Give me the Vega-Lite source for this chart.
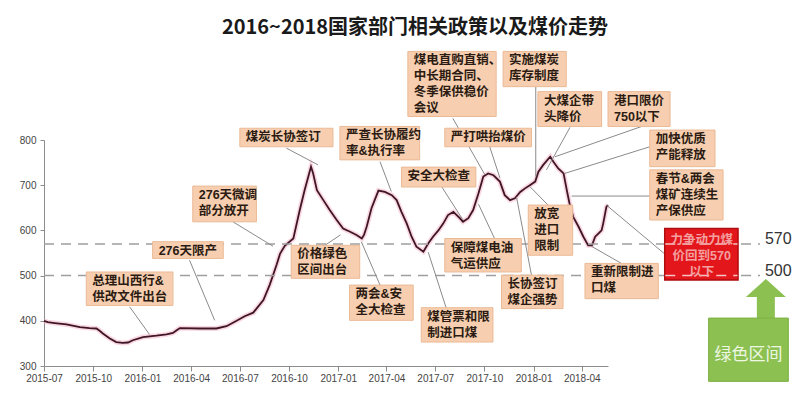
{
  "$schema": "https://vega.github.io/schema/vega-lite/v6.json",
  "width": 564,
  "height": 226,
  "autosize": {"type": "none"},
  "padding": {"left": 44, "top": 140, "right": 190, "bottom": 28},
  "background": "white",
  "title": {"text": "2016~2018国家部门相关政策以及煤价走势", "fontSize": 20, "fontWeight": "bold", "font": "Noto Sans CJK SC", "color": "#1a1a1a", "anchor": "middle", "dx": 89, "dy": -9},
  "config": {
    "view": {"stroke": null},
    "font": "Noto Sans CJK SC",
    "axis": {"grid": false, "labelFlush": false, "labelOverlap": false, "labelFont": "Liberation Sans", "labelFontSize": 10, "labelColor": "#444", "domainColor": "#8c8c8c", "tickColor": "#8c8c8c", "title": null}
  },
  "datasets": {
    "price": [
      {"date":"2015-07-01","price":400},{"date":"2015-07-08","price":397},{"date":"2015-07-21","price":395},{"date":"2015-08-12","price":392},{"date":"2015-09-06","price":386},{"date":"2015-09-24","price":384},{"date":"2015-10-07","price":383},{"date":"2015-10-13","price":378},{"date":"2015-10-19","price":372},{"date":"2015-11-01","price":361},{"date":"2015-11-13","price":353},{"date":"2015-11-25","price":351},{"date":"2015-12-05","price":352},{"date":"2015-12-14","price":357},{"date":"2016-01-02","price":364},{"date":"2016-01-27","price":367},{"date":"2016-02-15","price":370},{"date":"2016-02-27","price":373},{"date":"2016-03-05","price":379},{"date":"2016-03-11","price":384},{"date":"2016-04-17","price":383},{"date":"2016-05-18","price":383},{"date":"2016-06-06","price":388},{"date":"2016-06-25","price":400},{"date":"2016-07-10","price":410},{"date":"2016-07-26","price":418},{"date":"2016-08-14","price":446},{"date":"2016-08-26","price":480},{"date":"2016-09-08","price":525},{"date":"2016-09-14","price":548},{"date":"2016-09-23","price":566},{"date":"2016-10-09","price":582},{"date":"2016-10-21","price":645},{"date":"2016-10-30","price":689},{"date":"2016-11-06","price":719},{"date":"2016-11-11","price":741},{"date":"2016-11-15","price":726},{"date":"2016-11-22","price":689},{"date":"2016-12-04","price":667},{"date":"2016-12-16","price":645},{"date":"2016-12-29","price":623},{"date":"2017-01-10","price":604},{"date":"2017-01-23","price":597},{"date":"2017-02-04","price":590},{"date":"2017-02-14","price":582},{"date":"2017-02-18","price":590},{"date":"2017-02-23","price":608},{"date":"2017-03-04","price":649},{"date":"2017-03-17","price":688},{"date":"2017-03-29","price":685},{"date":"2017-04-11","price":678},{"date":"2017-04-20","price":667},{"date":"2017-04-29","price":641},{"date":"2017-05-09","price":615},{"date":"2017-05-18","price":586},{"date":"2017-05-27","price":564},{"date":"2017-06-09","price":553},{"date":"2017-06-18","price":571},{"date":"2017-06-27","price":586},{"date":"2017-07-07","price":600},{"date":"2017-07-16","price":615},{"date":"2017-07-25","price":634},{"date":"2017-08-04","price":641},{"date":"2017-08-16","price":627},{"date":"2017-08-22","price":619},{"date":"2017-09-01","price":627},{"date":"2017-09-10","price":645},{"date":"2017-09-20","price":682},{"date":"2017-09-29","price":719},{"date":"2017-10-08","price":726},{"date":"2017-10-18","price":722},{"date":"2017-10-30","price":708},{"date":"2017-11-08","price":678},{"date":"2017-11-18","price":667},{"date":"2017-11-27","price":671},{"date":"2017-12-07","price":685},{"date":"2017-12-16","price":693},{"date":"2017-12-25","price":700},{"date":"2018-01-04","price":708},{"date":"2018-01-10","price":730},{"date":"2018-01-19","price":745},{"date":"2018-02-01","price":763},{"date":"2018-02-07","price":752},{"date":"2018-02-16","price":737},{"date":"2018-02-26","price":726},{"date":"2018-03-04","price":689},{"date":"2018-03-09","price":660},{"date":"2018-03-16","price":630},{"date":"2018-03-26","price":608},{"date":"2018-04-04","price":586},{"date":"2018-04-13","price":567},{"date":"2018-04-20","price":567},{"date":"2018-04-26","price":586},{"date":"2018-05-02","price":593},{"date":"2018-05-08","price":600},{"date":"2018-05-11","price":615},{"date":"2018-05-17","price":652},{"date":"2018-05-20","price":656}
    ],
    "levels": [
      {"level": 570, "start": "2015-07-01", "end": "2019-02-28"},
      {"level": 500, "start": "2015-07-01", "end": "2019-02-28"}
    ],
    "redLevels": [
      {"level": 570, "start": "2018-09-04", "end": "2019-01-17"},
      {"level": 500, "start": "2018-09-04", "end": "2019-01-17"}
    ],
    "notes": [
      {"note":"总理山西行&\n供改文件出台","start":"2015-09-18","end":"2016-02-27","top":508,"bottom":434},
      {"note":"276天限产","start":"2016-01-20","end":"2016-05-31","top":575,"bottom":538},
      {"note":"276天微调\n部分放开","start":"2016-04-04","end":"2016-08-01","top":698,"bottom":619},
      {"note":"煤炭长协签订","start":"2016-07-01","end":"2016-12-22","top":826,"bottom":785},
      {"note":"严查长协履约\n率&执行率","start":"2017-01-04","end":"2017-06-02","top":830,"bottom":756},
      {"note":"安全大检查","start":"2017-04-29","end":"2017-09-15","top":740,"bottom":696},
      {"note":"煤电直购直销、\n中长期合同、\n冬季保供稳价\n会议","start":"2017-05-11","end":"2017-10-23","top":996,"bottom":852},
      {"note":"严打哄抬煤价","start":"2017-07-19","end":"2017-12-28","top":826,"bottom":785},
      {"note":"实施煤炭\n库存制度","start":"2017-11-05","end":"2018-03-03","top":996,"bottom":918},
      {"note":"大煤企带\n头降价","start":"2018-01-09","end":"2018-05-08","top":907,"bottom":830},
      {"note":"港口限价\n750以下","start":"2018-05-20","end":"2018-09-13","top":907,"bottom":830},
      {"note":"加快优质\n产能释放","start":"2018-08-06","end":"2018-12-06","top":822,"bottom":741},
      {"note":"春节&两会\n煤矿连续生\n产保供应","start":"2018-08-06","end":"2018-12-21","top":734,"bottom":623},
      {"note":"重新限制进\n口煤","start":"2018-04-07","end":"2018-08-22","top":527,"bottom":449},
      {"note":"放宽\n进口\n限制","start":"2017-12-22","end":"2018-03-15","top":656,"bottom":545},
      {"note":"保障煤电油\n气运供应","start":"2017-07-19","end":"2017-12-09","top":582,"bottom":508},
      {"note":"长协签订\n煤企强势","start":"2017-11-02","end":"2018-02-25","top":501,"bottom":427},
      {"note":"煤管票和限\n制进口煤","start":"2017-06-05","end":"2017-10-17","top":429,"bottom":353},
      {"note":"两会&安\n全大检查","start":"2017-01-22","end":"2017-05-21","top":479,"bottom":401},
      {"note":"价格绿色\n区间出台","start":"2016-10-05","end":"2017-02-10","top":567,"bottom":494}
    ],
    "arrows": [
      {"from":"2015-12-08","fromValue":431,"to":"2016-01-14","toValue":370},
      {"from":"2016-03-29","fromValue":534,"to":"2016-05-15","toValue":401},
      {"from":"2016-06-18","fromValue":619,"to":"2016-09-01","toValue":565},
      {"from":"2016-09-26","fromValue":782,"to":"2016-11-24","toValue":745},
      {"from":"2017-03-20","fromValue":752,"to":"2017-04-10","toValue":686},
      {"from":"2017-07-13","fromValue":697,"to":"2017-08-22","toValue":623},
      {"from":"2017-08-03","fromValue":848,"to":"2017-10-02","toValue":723},
      {"from":"2017-10-11","fromValue":785,"to":"2017-10-30","toValue":716},
      {"from":"2018-01-05","fromValue":918,"to":"2018-01-05","toValue":719},
      {"from":"2018-03-10","fromValue":828,"to":"2018-01-25","toValue":734},
      {"from":"2018-07-22","fromValue":830,"to":"2018-02-10","toValue":763},
      {"from":"2018-08-06","fromValue":785,"to":"2018-02-28","toValue":726},
      {"from":"2018-08-06","fromValue":676,"to":"2018-03-13","toValue":676},
      {"from":"2018-09-06","fromValue":545,"to":"2018-05-17","toValue":656},
      {"from":"2018-06-14","fromValue":527,"to":"2018-04-19","toValue":565},
      {"from":"2018-01-28","fromValue":656,"to":"2017-12-25","toValue":697},
      {"from":"2017-10-20","fromValue":582,"to":"2017-09-20","toValue":658},
      {"from":"2017-12-28","fromValue":501,"to":"2017-11-30","toValue":674},
      {"from":"2017-07-22","fromValue":427,"to":"2017-06-18","toValue":552},
      {"from":"2017-03-20","fromValue":479,"to":"2017-02-13","toValue":575},
      {"from":"2016-12-07","fromValue":567,"to":"2017-01-05","toValue":590}
    ],
    "target": [
      {"note":"力争动力煤\n价回到570\n以下","start":"2018-09-03","end":"2019-01-18","top":604,"bottom":490}
    ],
    "green": [
      {"label":"绿色区间","start":"2018-11-24","end":"2019-04-22","top":406,"bottom":266,"arrowAt":"2019-03-11","arrowValue":448}
    ]
  },
  "layer": [
    {
      "data": {"name": "price"},
      "mark": {"type": "line", "color": "#f5b8c8", "strokeWidth": 5, "opacity": 0.55},
      "encoding": {
        "x": {"field": "date", "type": "temporal", "title": null,
              "scale": {"domain": [{"year":2015,"month":7,"date":1},{"year":2018,"month":5,"date":20}], "nice": false},
              "axis": {"format": "%Y-%m", "tickCount": {"interval": "month", "step": 3}, "tickSize": 5, "labelPadding": 2}},
        "y": {"field": "price", "type": "quantitative", "title": null,
              "scale": {"domain": [300, 800], "nice": false, "zero": false},
              "axis": {"values": [300,350,400,450,500,550,600,650,700,750,800], "tickSize": 4, "labelPadding": 4}}
      }
    },
    {
      "data": {"name": "price"},
      "mark": {"type": "line", "color": "#3f1628", "strokeWidth": 1.8},
      "encoding": {
        "x": {"field": "date", "type": "temporal", "title": null},
        "y": {"field": "price", "type": "quantitative", "title": null}
      }
    },
    {
      "data": {"name": "levels"},
      "mark": {"type": "rule", "color": "#9e9e9e", "strokeWidth": 1.5, "strokeDash": [10, 7]},
      "encoding": {
        "x": {"field": "start", "type": "temporal", "title": null},
        "x2": {"field": "end"},
        "y": {"field": "level", "type": "quantitative", "title": null}
      }
    },
    {
      "data": {"name": "levels"},
      "mark": {"type": "text", "align": "left", "baseline": "alphabetic", "dx": 5, "dy": 0, "fontSize": 16, "font": "Liberation Sans", "color": "#333"},
      "encoding": {
        "x": {"field": "end", "type": "temporal", "title": null},
        "y": {"field": "level", "type": "quantitative", "title": null},
        "text": {"field": "level"}
      }
    },
    {
      "data": {"name": "arrows"},
      "mark": {"type": "rule", "color": "#8a8a8a", "strokeWidth": 1},
      "encoding": {
        "x": {"field": "from", "type": "temporal", "title": null},
        "x2": {"field": "to"},
        "y": {"field": "fromValue", "type": "quantitative", "title": null},
        "y2": {"field": "toValue"}
      }
    },
    {
      "data": {"name": "notes"},
      "mark": {"type": "rect", "fill": "#f7cfb0", "stroke": "#eab995", "strokeWidth": 1},
      "encoding": {
        "x": {"field": "start", "type": "temporal", "title": null},
        "x2": {"field": "end"},
        "y": {"field": "top", "type": "quantitative", "title": null},
        "y2": {"field": "bottom"}
      }
    },
    {
      "data": {"name": "notes"},
      "mark": {"type": "text", "align": "left", "baseline": "top", "dx": 6, "dy": 3, "fontSize": 12.5, "fontWeight": "bold", "font": "Liberation Sans, Noto Sans CJK SC", "color": "#2b1b12", "lineBreak": "\n", "lineHeight": 16},
      "encoding": {
        "x": {"field": "start", "type": "temporal", "title": null},
        "y": {"field": "top", "type": "quantitative", "title": null},
        "text": {"field": "note"}
      }
    },
    {
      "data": {"name": "target"},
      "mark": {"type": "rect", "fill": "#e3161b", "stroke": "#b00d10", "strokeWidth": 1.5},
      "encoding": {
        "x": {"field": "start", "type": "temporal", "title": null},
        "x2": {"field": "end"},
        "y": {"field": "top", "type": "quantitative", "title": null},
        "y2": {"field": "bottom"}
      }
    },
    {
      "data": {"name": "redLevels"},
      "mark": {"type": "rule", "color": "#f6c4c4", "strokeWidth": 1.5, "strokeDash": [10, 7]},
      "encoding": {
        "x": {"field": "start", "type": "temporal", "title": null},
        "x2": {"field": "end"},
        "y": {"field": "level", "type": "quantitative", "title": null}
      }
    },
    {
      "data": {"name": "target"},
      "mark": {"type": "text", "align": "center", "baseline": "top", "dx": 37, "dy": 5, "fontSize": 12.5, "fontWeight": "bold", "font": "Liberation Sans, Noto Sans CJK SC", "color": "#f3a0a0", "lineBreak": "\n", "lineHeight": 16},
      "encoding": {
        "x": {"field": "start", "type": "temporal", "title": null},
        "y": {"field": "top", "type": "quantitative", "title": null},
        "text": {"field": "note"}
      }
    },
    {
      "data": {"name": "green"},
      "mark": {"type": "point", "shape": "M0,-1 L1,-0.1 L0.45,-0.1 L0.45,1 L-0.45,1 L-0.45,-0.1 L-1,-0.1 Z", "size": 1600, "filled": true, "color": "#8cc152", "opacity": 1},
      "encoding": {
        "x": {"field": "arrowAt", "type": "temporal", "title": null},
        "y": {"field": "arrowValue", "type": "quantitative", "title": null}
      }
    },
    {
      "data": {"name": "green"},
      "mark": {"type": "rect", "fill": "#8cc152", "stroke": "#7db043", "strokeWidth": 1},
      "encoding": {
        "x": {"field": "start", "type": "temporal", "title": null},
        "x2": {"field": "end"},
        "y": {"field": "top", "type": "quantitative", "title": null},
        "y2": {"field": "bottom"}
      }
    },
    {
      "data": {"name": "green"},
      "mark": {"type": "text", "align": "center", "baseline": "top", "dx": 40, "dy": 29, "fontSize": 17, "color": "#eef7e2"},
      "encoding": {
        "x": {"field": "start", "type": "temporal", "title": null},
        "y": {"field": "top", "type": "quantitative", "title": null},
        "text": {"field": "label"}
      }
    }
  ]
}
